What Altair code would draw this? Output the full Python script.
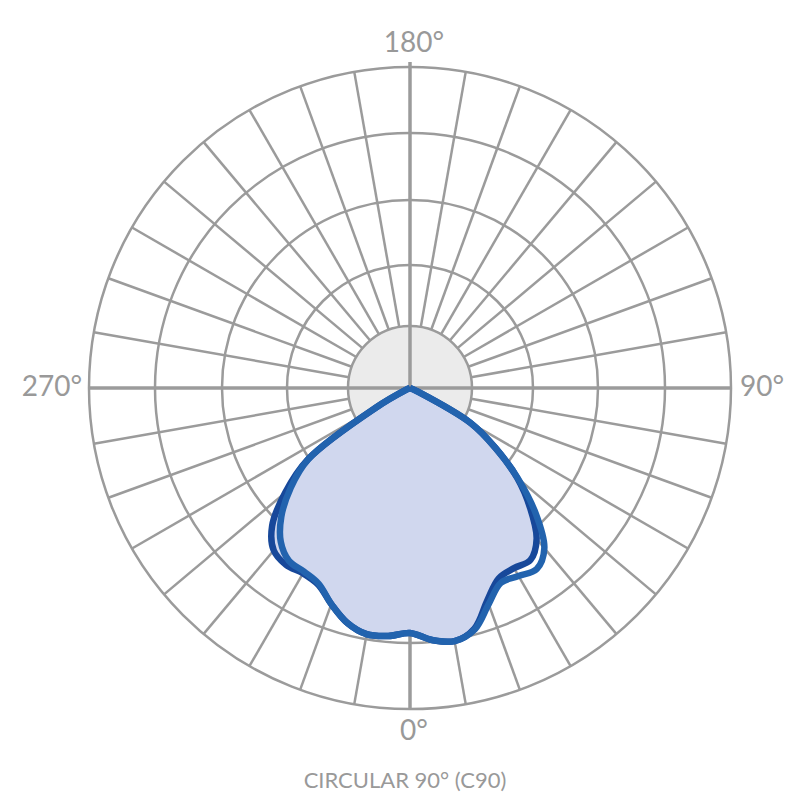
import altair as alt
import pandas as pd

# ---- data ----
angles = [-70, -65, -60, -55, -50, -45, -40, -35, -30, -25, -20, -15, -10, -5, 0,
          5, 10, 15, 20, 25, 30, 35, 40, 45, 50, 55, 60, 65, 70]
dark_r = [0, 4, 40, 125, 163, 195, 212, 216, 214, 217, 230, 243, 250, 249, 245,
          253, 257, 249, 226, 210, 208, 210, 197, 170, 140, 104, 70, 8, 0]
light_r = [0, 4, 40, 124, 156, 182, 201, 211, 212, 216, 230, 243, 250, 249, 245,
           253, 257, 250, 230, 215, 217, 221, 209, 178, 141, 104, 70, 8, 0]

ring_r = [123, 188, 255, 321]
inner_r = [62]
spoke_angles = [a for a in range(10, 360, 10) if a % 90 != 0]
axis_angles = [0, 90, 180, 270]
label_text = ["0°", "90°", "180°", "270°"]
title_text = ["CIRCULAR 90° (C90)"]

GRID = "#9b9b9b"
XS = alt.Scale(domain=[-402, 382], nice=False, zero=False)
YS = alt.Scale(domain=[-404, 380], nice=False, zero=False)

curves = pd.DataFrame(
    [{"curve": "dark", "angle": a, "r": r} for a, r in zip(angles, dark_r)]
    + [{"curve": "light", "angle": a, "r": r} for a, r in zip(angles, light_r)]
)

def polar(ch):
    return ch.transform_calculate(
        px="datum.r * sin(datum.angle * PI / 180)",
        py="-datum.r * cos(datum.angle * PI / 180)",
    )

base_curve = polar(alt.Chart(curves))

dark_line = base_curve.transform_filter("datum.curve == 'dark'").mark_line(
    interpolate="catmull-rom", fill="#d0d7ee", stroke="#17489a", strokeWidth=6.5,
    strokeJoin="round"
).encode(
    x=alt.X("px:Q", scale=XS, axis=None),
    y=alt.Y("py:Q", scale=YS, axis=None),
    order=alt.Order("angle:Q"),
)
light_line = base_curve.transform_filter("datum.curve == 'light'").mark_line(
    interpolate="catmull-rom", stroke="#2263ae", strokeWidth=6.5, strokeJoin="round"
).encode(
    x=alt.X("px:Q", scale=XS, axis=None),
    y=alt.Y("py:Q", scale=YS, axis=None),
    order=alt.Order("angle:Q"),
)

rings = alt.Chart(pd.DataFrame({"r": ring_r})).transform_calculate(
    size="4 * datum.r * datum.r", cx="0", cy="0"
).mark_point(shape="circle", filled=False, stroke=GRID, strokeWidth=2.5, opacity=1).encode(
    x=alt.X("cx:Q", scale=XS, axis=None),
    y=alt.Y("cy:Q", scale=YS, axis=None),
    size=alt.Size("size:Q", scale=None, legend=None),
)

inner = alt.Chart(pd.DataFrame({"r": inner_r})).transform_calculate(
    size="4 * datum.r * datum.r", cx="0", cy="0"
).mark_point(shape="circle", filled=True, color="#ebebeb", stroke=GRID,
             strokeWidth=2.5, opacity=1, fillOpacity=1).encode(
    x=alt.X("cx:Q", scale=XS, axis=None),
    y=alt.Y("cy:Q", scale=YS, axis=None),
    size=alt.Size("size:Q", scale=None, legend=None),
)

spokes = alt.Chart(pd.DataFrame({"angle": spoke_angles})).transform_calculate(
    x1="62 * sin(datum.angle * PI / 180)",
    y1="-62 * cos(datum.angle * PI / 180)",
    x2="321 * sin(datum.angle * PI / 180)",
    y2="-321 * cos(datum.angle * PI / 180)",
).mark_rule(color=GRID, strokeWidth=2.5).encode(
    x=alt.X("x1:Q", scale=XS, axis=None),
    y=alt.Y("y1:Q", scale=YS, axis=None),
    x2="x2:Q",
    y2="y2:Q",
)

axes = alt.Chart(pd.DataFrame({"angle": axis_angles})).transform_calculate(
    x1="0", y1="0",
    x2="(datum.angle == 180 ? 326 : 322) * sin(datum.angle * PI / 180)",
    y2="-(datum.angle == 180 ? 326 : 322) * cos(datum.angle * PI / 180)",
).mark_rule(color=GRID, strokeWidth=3.5).encode(
    x=alt.X("x1:Q", scale=XS, axis=None),
    y=alt.Y("y1:Q", scale=YS, axis=None),
    x2="x2:Q",
    y2="y2:Q",
)

lab_df = pd.DataFrame({"angle": axis_angles, "label": label_text})

def label_layer(flt, radius, align, dx=0):
    return alt.Chart(lab_df).transform_filter(flt).transform_calculate(
        lx=f"{radius} * sin(datum.angle * PI / 180)",
        ly=f"-{radius} * cos(datum.angle * PI / 180)",
    ).mark_text(font="Lato", fontSize=28, color="#999999", align=align,
                baseline="middle", dx=dx).encode(
        x=alt.X("lx:Q", scale=XS, axis=None),
        y=alt.Y("ly:Q", scale=YS, axis=None),
        text="label:N",
    )

lab_tb = label_layer("datum.angle == 0 || datum.angle == 180", 344, "center", 4)
lab_r = label_layer("datum.angle == 90", 330, "left")
lab_l = label_layer("datum.angle == 270", 328, "right")

title = alt.Chart(pd.DataFrame({"t": title_text})).mark_text(
    font="Lato", fontSize=22, color="#999999", align="center", baseline="alphabetic"
).encode(x=alt.value(397), y=alt.value(780), text="t:N")

chart = alt.layer(
    rings, spokes, inner, axes, dark_line, light_line, lab_tb, lab_r, lab_l, title
).properties(
    width=784, height=784,
    autosize=alt.AutoSizeParams(type="none"),
    padding=0,
).configure_view(stroke=None)

chart.save("out.html", embed_options={"renderer": "svg", "actions": False})
